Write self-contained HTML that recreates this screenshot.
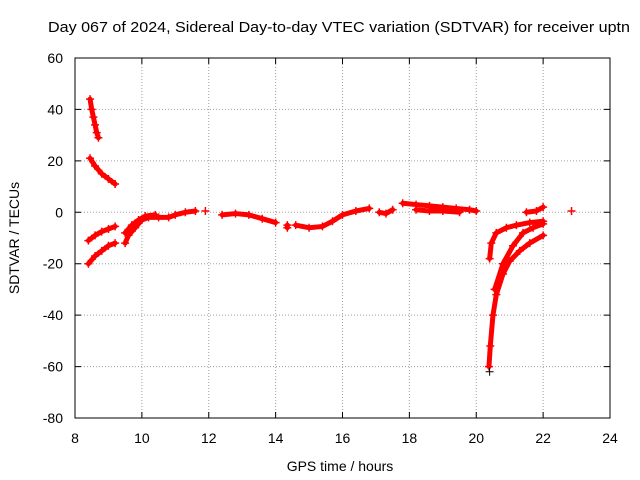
<!DOCTYPE html>
<html><head><meta charset="utf-8"><style>
body{margin:0;background:#fff;width:640px;height:480px;overflow:hidden}
svg{display:block;font-family:"Liberation Sans",sans-serif}
</style></head><body>
<svg id="chart" width="640" height="480" viewBox="0 0 640 480"></svg>
<script>
const xTicks=[8,10,12,14,16,18,20,22,24];
const yTicks=[-80,-60,-40,-20,0,20,40,60];
const track1=[[8.45,44],[8.5,40],[8.55,37],[8.6,34],[8.65,31],[8.7,29]];
const track2=[[8.45,21],[8.6,18],[8.8,15],[9.0,13],[9.2,11]];
const track3=[[8.4,-20],[8.6,-17],[8.8,-15],[9.0,-13],[9.2,-12]];
const track4=[[8.4,-11],[8.6,-9],[8.8,-7.5],[9.0,-6.5],[9.2,-5.5]];
const track5=[[9.5,-12],[9.6,-9],[9.8,-6],[10,-3],[10.2,-2],[10.5,-2],[10.8,-2],[11,-1],[11.3,0],[11.6,0.5]];
const track6=[[9.5,-8],[9.7,-5],[9.9,-3],[10.1,-1.5],[10.4,-1]];
const track7=[[11.9,0.5]];
const track8=[[12.4,-1],[12.8,-0.5],[13.2,-1],[13.6,-2.5],[14,-4]];
const track9=[[14.35,-5],[14.35,-6]];
const track10=[[14.6,-5],[15,-6],[15.4,-5.5],[15.7,-3.5],[16,-1],[16.4,0.5],[16.8,1.5]];
const track11=[[17.1,0],[17.3,-0.5],[17.5,1]];
const track12=[[17.8,3.5],[18.2,3],[18.6,2.5],[19,2],[19.4,1.5],[19.8,1],[20,0.5]];
const track13=[[18.2,1],[18.6,0.5],[19,0.5],[19.5,0]];
const track14=[[20.38,-60],[20.42,-52],[20.5,-40],[20.6,-32],[20.8,-24],[21,-19],[21.3,-15],[21.6,-12],[22,-9]];
const track15=[[20.4,-18],[20.45,-12],[20.6,-8],[20.9,-6],[21.2,-5],[21.6,-4],[22,-3.5]];
const track16=[[20.55,-30],[20.8,-20],[21.1,-13],[21.4,-8],[21.7,-6],[22,-4.5]];
const track17=[[21.5,0],[21.8,0.5],[22,2]];
const track18=[[22.85,0.5]];
const blackPoints=[[20.4,-62]];
const tracks=[track1,track2,track3,track4,track5,track6,track7,track8,track9,track10,track11,track12,track13,track14,track15,track16,track17,track18];

const L=75,R=610,T=58,B=418;
const X=v=>L+(v-8)/16*(R-L);
const Y=v=>B-(v+80)/140*(B-T);
const NS="http://www.w3.org/2000/svg";
const svg=document.getElementById('chart');
function mk(tag,attrs,parent){const e=document.createElementNS(NS,tag);for(const k in attrs)e.setAttribute(k,attrs[k]);(parent||svg).appendChild(e);return e;}

const grid=mk('g',{});


xTicks.forEach(t=>{
  if(t>8&&t<24){const l=mk('line',{x1:X(t),x2:X(t),y1:T,y2:B,stroke:'#a0a0a0','stroke-dasharray':'1,2'},grid);
  
  }
  const tk=mk('path',{d:`M${X(t)},${B}v-6M${X(t)},${T}v6`,stroke:'#000'},svg);
  
  
  const tx=mk('text',{x:X(t),y:B+25,'text-anchor':'middle','font-size':14},svg);
  tx.textContent=t;
  
  
});
yTicks.forEach(t=>{
  if(t>-80&&t<60){const l=mk('line',{x1:L,x2:R,y1:Y(t),y2:Y(t),stroke:'#a0a0a0','stroke-dasharray':'1,2'},grid);
  
  }
  const tk=mk('path',{d:`M${L},${Y(t)}h6M${R},${Y(t)}h-6`,stroke:'#000'},svg);
  
  
  const tx=mk('text',{x:L-12,y:Y(t)+5,'text-anchor':'end','font-size':14},svg);
  tx.textContent=t;
  
  
});
const frame=mk('rect',{x:L,y:T,width:R-L,height:B-T,fill:'none',stroke:'#000'});



const series=mk('g',{});


tracks.forEach(tr=>{
  if(tr.length>1){
    const pl=mk('polyline',{points:tr.map(p=>X(p[0])+','+Y(p[1])).join(' '),fill:'none',stroke:'#f00','stroke-width':5,'stroke-linecap':'round','stroke-linejoin':'round'},series);
    
    
  }
  tr.forEach(p=>{
    const m=mk('path',{d:`M${X(p[0])-4},${Y(p[1])}h8M${X(p[0])},${Y(p[1])-4}v8`,stroke:'#f00','stroke-width':1.5},series);
    
    
  });
});
blackPoints.forEach(p=>{
  const m=mk('path',{d:`M${X(p[0])-4},${Y(p[1])}h8M${X(p[0])},${Y(p[1])-4}v8`,stroke:'#000','stroke-width':1},series);
  
  
});

const title=mk('text',{x:48,y:32,'font-size':15,textLength:582,lengthAdjust:'spacingAndGlyphs'});
title.textContent='Day 067 of 2024, Sidereal Day-to-day VTEC variation (SDTVAR) for receiver uptn';


const xl=mk('text',{x:340,y:471,'text-anchor':'middle','font-size':14});
xl.textContent='GPS time / hours';


const yl=mk('text',{x:0,y:0,'text-anchor':'middle','font-size':14,transform:'translate(19,238) rotate(-90)'});
yl.textContent='SDTVAR / TECUs';


</script>
</body></html>
